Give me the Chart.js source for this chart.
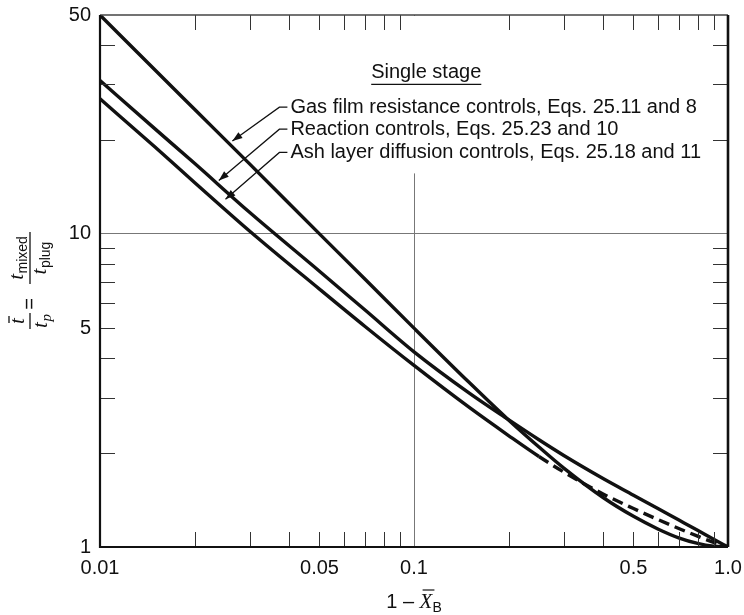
<!DOCTYPE html>
<html>
<head>
<meta charset="utf-8">
<title>Single stage: mixed vs plug holding time</title>
<script src="https://cdn.jsdelivr.net/npm/chart.js@4.4.1/dist/chart.umd.min.js"></script>
<style>
    html, body { margin: 0; padding: 0; background: #fff; }
    #wrap { width: 744px; height: 615px; }
</style>
</head>
<body>
<div id="wrap"><canvas id="chart1" width="744" height="615"></canvas></div>
<script>
var conversionLeft = [0.01, 0.015, 0.02, 0.03, 0.05, 0.07, 0.1, 0.15, 0.2, 0.25, 0.3, 0.4, 0.5, 0.6, 0.7, 0.8, 0.9, 1.0];

// t_mixed / t_plug for each controlling resistance
var gasFilm = [50, 33.3, 25, 16.7, 10, 7.15, 5.0, 3.35, 2.545, 2.086, 1.786, 1.439, 1.253, 1.14, 1.068, 1.027, 1.006, 1.0];
var reaction = [30.9, 21.6, 16.8, 11.7, 7.6, 5.7, 4.2, 3.1, 2.55, 2.2, 1.96, 1.655, 1.464, 1.324, 1.217, 1.131, 1.059, 1.0];
var ashLayer = [27.0, 18.9, 14.6, 10.2, 6.66, 5.05, 3.8, 2.79, 2.27, 1.945, 1.735, 1.477, 1.327, 1.222, 1.144, 1.083, 1.035, 1.0];
var ashDashedFrom = 0.25;

var xTickValues = [0.01, 0.05, 0.1, 0.5, 1.0];
var xTickLabels = ["0.01", "0.05", "0.1", "0.5", "1.0"];
var yTickValues = [1, 5, 10, 50];
var yTickLabels = ["1", "5", "10", "50"];
var xMinorTicks = [0.02, 0.03, 0.04, 0.05, 0.06, 0.07, 0.08, 0.09, 0.2, 0.3, 0.4, 0.5, 0.6, 0.7, 0.8, 0.9];
var yMinorTicks = [2, 3, 4, 5, 6, 7, 8, 9, 20, 30, 40];

var titleText = "Single stage";
var noteLabels = [
    "Gas film resistance controls, Eqs. 25.11 and 8",
    "Reaction controls, Eqs. 25.23 and 10",
    "Ash layer diffusion controls, Eqs. 25.18 and 11"
];
// where the leader arrows land on the curves (data coords)
var noteTipX = [0.0264, 0.0239, 0.0251];
var noteTipY = [19.8, 14.8, 12.9];
var noteTextX = 0.0404;
var noteRowY = [25.4, 21.6, 18.2];
var titleAt = [0.1094, 32.8];
var gridBreakY = 15.6;

var sansFont = '"Liberation Sans", Arial, sans-serif';
var serifFont = '"Liberation Serif", "Times New Roman", serif';
var ink = "#111";

function toPoints(ys) {
    return ys.map(function (y, i) {
        return { x: conversionLeft[i], y: y };
    });
}

function curve(label, ys) {
    return {
        label: label,
        data: toPoints(ys),
        showLine: true,
        borderColor: ink,
        borderWidth: 3.4,
        pointRadius: 0,
        fill: false,
        cubicInterpolationMode: "monotone"
    };
}

function arrowHead(ctx, fromX, fromY, toX, toY) {
    var ang = Math.atan2(toY - fromY, toX - fromX);
    var len = 10, half = 3.6;
    ctx.beginPath();
    ctx.moveTo(toX, toY);
    ctx.lineTo(toX - len * Math.cos(ang) + half * Math.sin(ang), toY - len * Math.sin(ang) - half * Math.cos(ang));
    ctx.lineTo(toX - len * Math.cos(ang) - half * Math.sin(ang), toY - len * Math.sin(ang) + half * Math.cos(ang));
    ctx.closePath();
    ctx.fill();
}

// italic t with a subscript, returns total width
function tWithSub(ctx, sub, subItalic, x, base, measureOnly) {
    ctx.font = "italic 21px " + serifFont;
    var w1 = ctx.measureText("t").width;
    ctx.font = (subItalic ? "italic 15px " + serifFont : "14px " + sansFont);
    var w2 = ctx.measureText(sub).width;
    if (!measureOnly) {
        ctx.font = "italic 21px " + serifFont;
        ctx.fillText("t", x, base);
        ctx.font = (subItalic ? "italic 15px " + serifFont : "14px " + sansFont);
        ctx.fillText(sub, x + w1 + 0.5, base + 4);
    }
    return w1 + 0.5 + w2;
}

function noScalePadding(s) {
    s.paddingTop = 0;
    s.paddingBottom = 0;
    s.paddingLeft = 0;
    s.paddingRight = 0;
}

var paperFrame = {
    id: "paperFrame",
    beforeDatasetsDraw: function (chart) {
        var ctx = chart.ctx, xs = chart.scales.x, ys = chart.scales.y, area = chart.chartArea;
        // the 0.1 grid line stops under the note block
        var gx = xs.getPixelForValue(0.1);
        ctx.save();
        ctx.fillStyle = "#fff";
        ctx.fillRect(gx - 3, area.top + 1, 6, ys.getPixelForValue(gridBreakY) - area.top - 1);

        ctx.fillStyle = ink;
        ctx.strokeStyle = ink;
        ctx.font = "20px " + sansFont;
        ctx.textBaseline = "middle";
        ctx.textAlign = "center";
        var tx = xs.getPixelForValue(titleAt[0]), ty = ys.getPixelForValue(titleAt[1]);
        ctx.fillText(titleText, tx, ty);
        var tw = ctx.measureText(titleText).width;
        ctx.lineWidth = 1.2;
        ctx.beginPath();
        ctx.moveTo(tx - tw / 2, ty + 12);
        ctx.lineTo(tx + tw / 2, ty + 12);
        ctx.stroke();

        ctx.textAlign = "left";
        var textLeft = xs.getPixelForValue(noteTextX);
        noteLabels.forEach(function (txt, i) {
            var rowY = ys.getPixelForValue(noteRowY[i]);
            ctx.fillText(txt, textLeft, rowY);
            var tipX = xs.getPixelForValue(noteTipX[i]), tipY = ys.getPixelForValue(noteTipY[i]);
            ctx.lineWidth = 1.3;
            ctx.beginPath();
            ctx.moveTo(textLeft - 3, rowY);
            ctx.lineTo(textLeft - 11, rowY);
            ctx.lineTo(tipX, tipY);
            ctx.stroke();
            arrowHead(ctx, textLeft - 11, rowY, tipX, tipY);
        });
        ctx.restore();
    },
    afterDraw: function (chart) {
        var ctx = chart.ctx, xs = chart.scales.x, ys = chart.scales.y, a = chart.chartArea;
        ctx.save();

        // minor ticks pointing inward on all four sides
        ctx.lineWidth = 1;
        ctx.strokeStyle = "#333";
        ctx.beginPath();
        xMinorTicks.forEach(function (v) {
            var px = Math.round(xs.getPixelForValue(v)) + 0.5;
            ctx.moveTo(px, a.bottom); ctx.lineTo(px, a.bottom - 15);
            ctx.moveTo(px, a.top); ctx.lineTo(px, a.top + 15);
        });
        yMinorTicks.forEach(function (v) {
            var py = Math.round(ys.getPixelForValue(v)) + 0.5;
            ctx.moveTo(a.left, py); ctx.lineTo(a.left + 15, py);
            ctx.moveTo(a.right, py); ctx.lineTo(a.right - 15, py);
        });
        ctx.stroke();

        // frame
        ctx.strokeStyle = "#444";
        ctx.lineWidth = 1.5;
        ctx.beginPath();
        ctx.moveTo(a.left, a.top); ctx.lineTo(a.right, a.top);
        ctx.stroke();
        ctx.strokeStyle = ink;
        ctx.lineWidth = 2.2;
        ctx.beginPath();
        ctx.moveTo(a.left, a.top); ctx.lineTo(a.left, a.bottom); ctx.lineTo(a.right, a.bottom);
        ctx.stroke();
        ctx.lineWidth = 2.6;
        ctx.beginPath();
        ctx.moveTo(a.right, a.top); ctx.lineTo(a.right, a.bottom);
        ctx.stroke();

        // x title: 1 - X_B with bar
        ctx.fillStyle = ink;
        ctx.strokeStyle = ink;
        ctx.textBaseline = "alphabetic";
        ctx.textAlign = "left";
        var base = a.bottom + 61;
        ctx.font = "20px " + sansFont;
        var w0 = ctx.measureText("1 \u2013 ").width;
        ctx.font = "italic 21px " + serifFont;
        var wX = ctx.measureText("X").width;
        ctx.font = "14px " + sansFont;
        var wB = ctx.measureText("B").width;
        var sx = (a.left + a.right) / 2 - (w0 + wX + wB) / 2;
        ctx.font = "20px " + sansFont;
        ctx.fillText("1 \u2013 ", sx, base);
        ctx.font = "italic 21px " + serifFont;
        ctx.fillText("X", sx + w0, base);
        ctx.font = "14px " + sansFont;
        ctx.fillText("B", sx + w0 + wX, base + 4);
        ctx.lineWidth = 1.2;
        ctx.beginPath();
        ctx.moveTo(sx + w0 + 3, base - 18); ctx.lineTo(sx + w0 + wX + 2, base - 18);
        ctx.stroke();

        // y title: tbar / t_p = t_mixed / t_plug, rotated
        ctx.translate(a.left - 70, (a.top + a.bottom) / 2);
        ctx.rotate(-Math.PI / 2);
        ctx.lineWidth = 1.3;
        var c1 = -40;
        ctx.font = "italic 21px " + serifFont;
        var wt = ctx.measureText("t").width;
        ctx.fillText("t", c1 - wt / 2, -6);
        ctx.beginPath();
        ctx.moveTo(c1 - wt / 2 + 1, -21); ctx.lineTo(c1 + wt / 2 + 2, -21);
        ctx.stroke();
        var wp = tWithSub(ctx, "p", true, 0, 0, true);
        tWithSub(ctx, "p", true, c1 - wp / 2, 17, false);
        ctx.beginPath();
        ctx.moveTo(c1 - 8, 0); ctx.lineTo(c1 + 8, 0);
        ctx.stroke();
        ctx.font = "20px " + sansFont;
        ctx.textAlign = "center";
        ctx.textBaseline = "middle";
        ctx.fillText("=", -23, 0);
        ctx.textAlign = "left";
        ctx.textBaseline = "alphabetic";
        var c2 = 23;
        var wm = tWithSub(ctx, "mixed", false, 0, 0, true);
        tWithSub(ctx, "mixed", false, c2 - wm / 2, -7, false);
        var wpl = tWithSub(ctx, "plug", false, 0, 0, true);
        tWithSub(ctx, "plug", false, c2 - wpl / 2, 16, false);
        ctx.beginPath();
        ctx.moveTo(c2 - 26, 0); ctx.lineTo(c2 + 26, 0);
        ctx.stroke();
        ctx.restore();
    }
};

var ctx = document.getElementById("chart1");
var chart = new Chart(ctx, {
    type: "scatter",
    data: {
        datasets: [
            curve("Gas film resistance controls", gasFilm),
            curve("Reaction controls", reaction),
            Object.assign(curve("Ash layer diffusion controls", ashLayer), {
                segment: {
                    borderDash: function (c) {
                        return c.p0.parsed.x >= ashDashedFrom ? [11, 6] : undefined;
                    }
                }
            })
        ]
    },
    options: {
        responsive: false,
        animation: false,
        layout: { padding: { left: 0, right: 16, top: 15, bottom: 0 } },
        plugins: {
            legend: { display: false },
            tooltip: { enabled: false }
        },
        scales: {
            x: {
                type: "logarithmic",
                min: 0.01,
                max: 1.0,
                afterBuildTicks: function (s) {
                    s.ticks = xTickValues.map(function (v) { return { value: v }; });
                },
                afterFit: function (s) { s.height = 68; noScalePadding(s); },
                border: { display: false },
                grid: {
                    drawTicks: false,
                    lineWidth: 1,
                    color: function (c) {
                        return c.tick && c.tick.value === 0.1 ? "#777" : "rgba(0,0,0,0)";
                    }
                },
                ticks: {
                    autoSkip: false,
                    maxRotation: 0,
                    padding: 9,
                    color: ink,
                    font: { family: sansFont, size: 20 },
                    callback: function (value) {
                        var i = xTickValues.indexOf(value);
                        return i >= 0 ? xTickLabels[i] : "";
                    }
                }
            },
            y: {
                type: "logarithmic",
                min: 1,
                max: 50,
                afterBuildTicks: function (s) {
                    s.ticks = yTickValues.map(function (v) { return { value: v }; });
                },
                afterFit: function (s) { s.width = 100; noScalePadding(s); },
                border: { display: false },
                grid: {
                    drawTicks: false,
                    lineWidth: 1,
                    color: function (c) {
                        return c.tick && c.tick.value === 10 ? "#777" : "rgba(0,0,0,0)";
                    }
                },
                ticks: {
                    autoSkip: false,
                    padding: 9,
                    color: ink,
                    font: { family: sansFont, size: 20 },
                    callback: function (value) {
                        var i = yTickValues.indexOf(value);
                        return i >= 0 ? yTickLabels[i] : "";
                    }
                }
            }
        }
    },
    plugins: [paperFrame]
});
</script>
</body>
</html>
